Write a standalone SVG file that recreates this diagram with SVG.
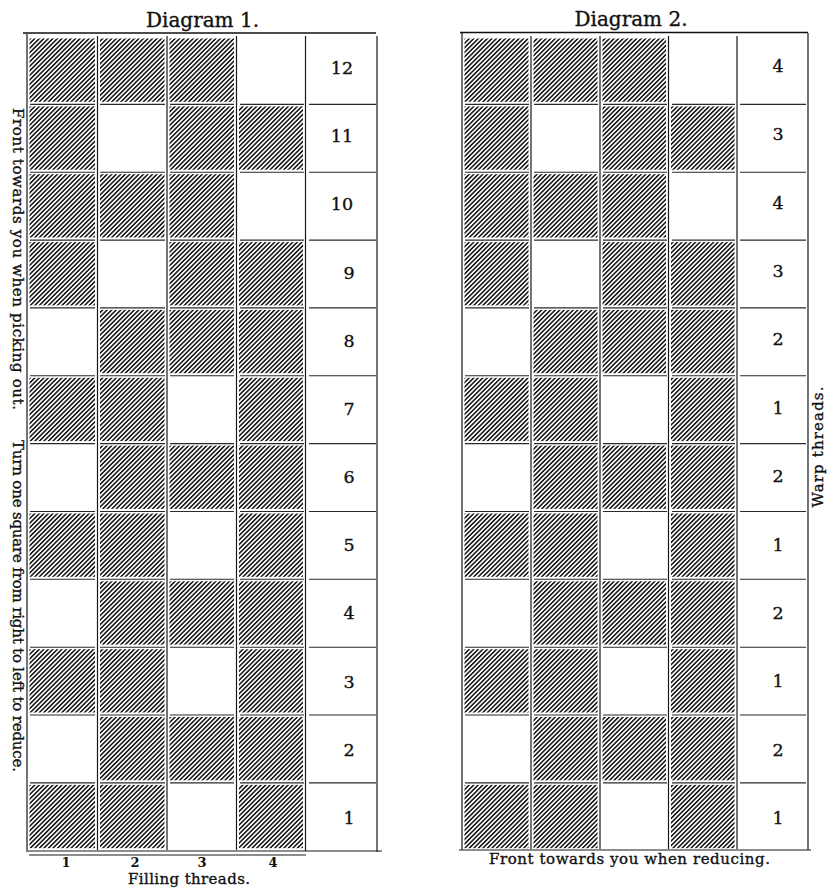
<svg xmlns="http://www.w3.org/2000/svg" width="827" height="888" viewBox="0 0 827 888">
<style>
.t{font-family:"DejaVu Serif","Liberation Serif",serif;fill:#111;stroke:#111;stroke-width:0.35}
.ttl{font-size:20px;text-anchor:middle}
.num{font-size:17.5px;text-anchor:middle}
.cap{font-size:15px}
.lbl{font-size:13px;font-weight:bold;text-anchor:middle;stroke-width:0}
.c{fill:url(#hatch)}
.sep{fill:none;stroke:#2a2a2a;stroke-width:1.1}
.ln{fill:none;stroke:#1a1a1a;stroke-width:1.2}
.bd{fill:none;stroke:#111;stroke-width:1.5}
</style>
<defs>
<pattern id="hatch" width="3.2" height="3.2" patternUnits="userSpaceOnUse" patternTransform="rotate(45)">
<rect width="3.2" height="3.2" fill="#fff"/>
<rect width="1.55" height="3.2" fill="#151515"/>
</pattern>
<g id="d1A"><rect class="c" x="29.5" y="2.5" width="65.5" height="63.3"/><rect class="c" x="100" y="2.5" width="64.5" height="63.3"/><rect class="c" x="169.5" y="2.5" width="64.5" height="63.3"/></g>
<g id="d1B"><rect class="c" x="29.5" y="2.5" width="65.5" height="63.3"/><rect class="c" x="169.5" y="2.5" width="64.5" height="63.3"/><rect class="c" x="239" y="2.5" width="64" height="63.3"/></g>
<g id="d1C"><rect class="c" x="100" y="2.5" width="64.5" height="63.3"/><rect class="c" x="169.5" y="2.5" width="64.5" height="63.3"/><rect class="c" x="239" y="2.5" width="64" height="63.3"/></g>
<g id="d1D"><rect class="c" x="29.5" y="2.5" width="65.5" height="63.3"/><rect class="c" x="100" y="2.5" width="64.5" height="63.3"/><rect class="c" x="239" y="2.5" width="64" height="63.3"/></g>
<g id="d2A"><rect class="c" x="464.5" y="2.5" width="64" height="63.3"/><rect class="c" x="533.5" y="2.5" width="64" height="63.3"/><rect class="c" x="602.5" y="2.5" width="63.5" height="63.3"/></g>
<g id="d2B"><rect class="c" x="464.5" y="2.5" width="64" height="63.3"/><rect class="c" x="602.5" y="2.5" width="63.5" height="63.3"/><rect class="c" x="671" y="2.5" width="63.5" height="63.3"/></g>
<g id="d2C"><rect class="c" x="533.5" y="2.5" width="64" height="63.3"/><rect class="c" x="602.5" y="2.5" width="63.5" height="63.3"/><rect class="c" x="671" y="2.5" width="63.5" height="63.3"/></g>
<g id="d2D"><rect class="c" x="464.5" y="2.5" width="64" height="63.3"/><rect class="c" x="533.5" y="2.5" width="64" height="63.3"/><rect class="c" x="671" y="2.5" width="63.5" height="63.3"/></g>
<path id="sep1" class="sep" d="M30 0H95M100 0H165M170 0H234M240 0H304M309 0H376"/>
<path id="sep2" class="sep" d="M465 0H529M534 0H598M603 0H667M672 0H735M740 0H806"/>
</defs>

<g id="diagram1">
<text class="t ttl" x="202.5" y="27">Diagram 1.</text>
<g id="d1-frame">
<path class="bd" d="M23 33H376"/>
<path class="ln" d="M27 34V852M377 36V852M28 851H382M29 855H306"/>
<path class="ln" d="M97.5 36V850M167 36V850M236.5 36V850M305.5 36V851"/>
<use href="#sep1" y="104.4"/><use href="#sep1" y="172.2"/><use href="#sep1" y="240.1"/><use href="#sep1" y="307.9"/><use href="#sep1" y="375.8"/><use href="#sep1" y="443.6"/><use href="#sep1" y="511.5"/><use href="#sep1" y="579.3"/><use href="#sep1" y="647.2"/><use href="#sep1" y="715"/><use href="#sep1" y="782.9"/>
</g>
<g id="d1-row12"><use href="#d1A" y="36"/><text class="t num" x="342" y="74">12</text></g>
<g id="d1-row11"><use href="#d1B" y="103.9"/><text class="t num" x="342" y="142.2">11</text></g>
<g id="d1-row10"><use href="#d1A" y="171.7"/><text class="t num" x="342" y="210.4">10</text></g>
<g id="d1-row9"><use href="#d1B" y="239.6"/><text class="t num" x="349" y="278.6">9</text></g>
<g id="d1-row8"><use href="#d1C" y="307.4"/><text class="t num" x="349" y="346.7">8</text></g>
<g id="d1-row7"><use href="#d1D" y="375.3"/><text class="t num" x="349" y="414.9">7</text></g>
<g id="d1-row6"><use href="#d1C" y="443.1"/><text class="t num" x="349" y="483.1">6</text></g>
<g id="d1-row5"><use href="#d1D" y="511"/><text class="t num" x="349" y="551.3">5</text></g>
<g id="d1-row4"><use href="#d1C" y="578.8"/><text class="t num" x="349" y="619.4">4</text></g>
<g id="d1-row3"><use href="#d1D" y="646.7"/><text class="t num" x="349" y="687.7">3</text></g>
<g id="d1-row2"><use href="#d1C" y="714.5"/><text class="t num" x="349" y="755.8">2</text></g>
<g id="d1-row1"><use href="#d1D" y="782.4"/><text class="t num" x="349" y="824">1</text></g>
<g id="d1-labels">
<text class="t lbl" x="66" y="866.5">1</text>
<text class="t lbl" x="135" y="866.5">2</text>
<text class="t lbl" x="202" y="866.5">3</text>
<text class="t lbl" x="273" y="866.5">4</text>
<text class="t cap" x="189" y="884" text-anchor="middle" textLength="122">Filling threads.</text>
<text class="t cap" x="12.5" y="108" transform="rotate(90 12.5 108)" textLength="302">Front towards you when picking out.</text>
<text class="t cap" x="12.5" y="440" transform="rotate(90 12.5 440)" textLength="332">Turn one square from right to left to reduce.</text>
</g>
</g>

<g id="diagram2">
<text class="t ttl" x="631" y="25.5">Diagram 2.</text>
<g id="d2-frame">
<path class="bd" d="M460 32.5H808"/>
<path class="ln" d="M462 33V850M808 33V850M459 850H811"/>
<path class="ln" d="M531 36V849M600 36V849M668.5 36V849M737 36V849"/>
<use href="#sep2" y="104.4"/><use href="#sep2" y="172.2"/><use href="#sep2" y="240.1"/><use href="#sep2" y="307.9"/><use href="#sep2" y="375.8"/><use href="#sep2" y="443.6"/><use href="#sep2" y="511.5"/><use href="#sep2" y="579.3"/><use href="#sep2" y="647.2"/><use href="#sep2" y="715"/><use href="#sep2" y="782.9"/>
</g>
<g id="d2-row1"><use href="#d2A" y="36"/><text class="t num" x="778" y="72">4</text></g>
<g id="d2-row2"><use href="#d2B" y="103.9"/><text class="t num" x="778" y="140.4">3</text></g>
<g id="d2-row3"><use href="#d2A" y="171.7"/><text class="t num" x="778" y="208.7">4</text></g>
<g id="d2-row4"><use href="#d2B" y="239.6"/><text class="t num" x="778" y="277.1">3</text></g>
<g id="d2-row5"><use href="#d2C" y="307.4"/><text class="t num" x="778" y="345.4">2</text></g>
<g id="d2-row6"><use href="#d2D" y="375.3"/><text class="t num" x="778" y="413.8">1</text></g>
<g id="d2-row7"><use href="#d2C" y="443.1"/><text class="t num" x="778" y="482.1">2</text></g>
<g id="d2-row8"><use href="#d2D" y="511"/><text class="t num" x="778" y="550.5">1</text></g>
<g id="d2-row9"><use href="#d2C" y="578.8"/><text class="t num" x="778" y="618.8">2</text></g>
<g id="d2-row10"><use href="#d2D" y="646.7"/><text class="t num" x="778" y="687.2">1</text></g>
<g id="d2-row11"><use href="#d2C" y="714.5"/><text class="t num" x="778" y="755.5">2</text></g>
<g id="d2-row12"><use href="#d2D" y="782.4"/><text class="t num" x="778" y="823.9">1</text></g>
<g id="d2-labels">
<text class="t cap" x="629.5" y="864" text-anchor="middle" textLength="281">Front towards you when reducing.</text>
<text class="t cap" x="823" y="447" transform="rotate(-90 823 447)" text-anchor="middle" textLength="121">Warp threads.</text>
</g>
</g>
</svg>
